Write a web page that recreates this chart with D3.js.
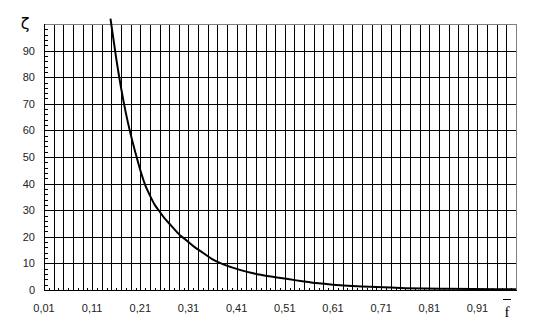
<!DOCTYPE html>
<html>
<head>
<meta charset="utf-8">
<script src="https://cdn.jsdelivr.net/npm/d3@7"></script>
<style>
  body { margin: 0; background: #fff; }
  text { font-family: "Liberation Sans", Arial, sans-serif; }
</style>
</head>
<body>
<div class="chart"></div>
<script>
// relative area f (x) and loss coefficient zeta (y)
var fVals =    [0.148, 0.16, 0.17, 0.18, 0.19, 0.20, 0.21, 0.22, 0.23, 0.24, 0.25, 0.26, 0.27, 0.28, 0.29, 0.30,
                0.32, 0.34, 0.36, 0.38, 0.40, 0.43, 0.46, 0.49, 0.52, 0.55, 0.58, 0.61, 0.64, 0.67, 0.70,
                0.73, 0.76, 0.80, 0.85, 0.90, 0.95, 0.99];
var zetaVals = [102, 87, 76, 66.5, 58.5, 51.5, 45, 39.5, 35.5, 32, 29.5, 27, 25, 23, 21, 19.5,
                16.5, 14, 11.5, 9.8, 8.5, 6.9, 5.7, 4.8, 4.0, 3.2, 2.5, 2.0, 1.6, 1.3, 1.1,
                0.9, 0.7, 0.55, 0.45, 0.35, 0.3, 0.3];

var xTicks = [0.01, 0.11, 0.21, 0.31, 0.41, 0.51, 0.61, 0.71, 0.81, 0.91];
var xLabels = ["0,01", "0,11", "0,21", "0,31", "0,41", "0,51", "0,61", "0,71", "0,81", "0,91"];
var yTicks = [0, 10, 20, 30, 40, 50, 60, 70, 80, 90];

var W = 550, H = 332;
var margin = {top: 24, right: 34, bottom: 42, left: 44};

var svg = d3.select(".chart").append("svg")
    .attr("width", W)
    .attr("height", H);

var x = d3.scaleLinear().domain([0.01, 0.99]).range([margin.left, W - margin.right]);
var y = d3.scaleLinear().domain([0, 100]).range([H - margin.bottom, margin.top]);

// grid
var xGrid = d3.range(1, 49).map(function (i) { return 0.01 + i * 0.02; });
var xMinor = d3.range(1, 50).map(function (i) { return i * 0.02; });
var yGrid = d3.range(1, 10).map(function (i) { return i * 10; });
var yMinor = d3.range(1, 50).map(function (i) { return i * 2; });

var g = svg.append("g").attr("shape-rendering", "crispEdges");

g.selectAll(".vgrid").data(xGrid).enter().append("line")
    .attr("x1", function (d) { return Math.round(x(d)) + 0.5; })
    .attr("x2", function (d) { return Math.round(x(d)) + 0.5; })
    .attr("y1", y(100)).attr("y2", y(0))
    .attr("stroke", "#000");

g.selectAll(".hgrid").data(yGrid).enter().append("line")
    .attr("x1", x(0.01)).attr("x2", x(0.99))
    .attr("y1", function (d) { return Math.round(y(d)) + 0.5; })
    .attr("y2", function (d) { return Math.round(y(d)) + 0.5; })
    .attr("stroke", "#000");

// frame: grey top/right, black axes
g.append("line").attr("x1", x(0.01)).attr("x2", x(0.99) + 0.5)
    .attr("y1", y(100) + 0.5).attr("y2", y(100) + 0.5).attr("stroke", "#808080");
g.append("line").attr("x1", x(0.99) + 0.5).attr("x2", x(0.99) + 0.5)
    .attr("y1", y(100)).attr("y2", y(0)).attr("stroke", "#808080");

// axes with minor ticks pointing inward
var xAxis = d3.axisTop(x).tickValues(xMinor).tickSize(3).tickFormat("");
svg.append("g")
    .attr("transform", "translate(0," + (y(0) + 0.5) + ")")
    .call(xAxis)
    .call(function (a) { a.select(".domain").attr("d", "M" + x(0.01) + ",0H" + (x(0.99) + 0.5)); })
    .attr("shape-rendering", "crispEdges");

var yAxis = d3.axisRight(y).tickValues(yMinor).tickSize(3).tickFormat("");
svg.append("g")
    .attr("transform", "translate(" + (x(0.01) + 0.5) + ",0)")
    .call(yAxis)
    .call(function (a) { a.select(".domain").attr("d", "M0," + y(100) + "V" + (y(0) + 0.5)); })
    .attr("shape-rendering", "crispEdges");

// tick labels
svg.selectAll(".xlab").data(xTicks).enter().append("text")
    .attr("x", function (d) { return x(d); })
    .attr("y", 312)
    .attr("text-anchor", "middle")
    .attr("font-size", 11)
    .attr("fill", "#222")
    .text(function (d, i) { return xLabels[i]; });

svg.selectAll(".ylab").data(yTicks).enter().append("text")
    .attr("x", 35)
    .attr("y", function (d) { return y(d) + 4; })
    .attr("text-anchor", "end")
    .attr("font-size", 11)
    .attr("fill", "#222")
    .text(function (d) { return d; });

// axis titles
svg.append("text")
    .attr("x", 25).attr("y", 29)
    .attr("text-anchor", "middle")
    .attr("font-size", 16)
    .style("font-family", "'DejaVu Sans', sans-serif")
    .text("ζ");

svg.append("text")
    .attr("x", 507).attr("y", 317)
    .attr("text-anchor", "middle")
    .attr("font-size", 15)
    .style("font-family", "'Liberation Serif', serif")
    .text("f");
svg.append("line")
    .attr("x1", 503).attr("x2", 511)
    .attr("y1", 299.5).attr("y2", 299.5)
    .attr("stroke", "#000")
    .attr("shape-rendering", "crispEdges");

// curve
var pts = fVals.map(function (f, i) { return [f, zetaVals[i]]; });
var line = d3.line()
    .x(function (d) { return x(d[0]); })
    .y(function (d) { return y(d[1]); })
    .curve(d3.curveMonotoneX);

svg.append("path")
    .datum(pts)
    .attr("d", line)
    .attr("fill", "none")
    .attr("stroke", "#000")
    .attr("stroke-width", 2);
</script>
</body>
</html>
